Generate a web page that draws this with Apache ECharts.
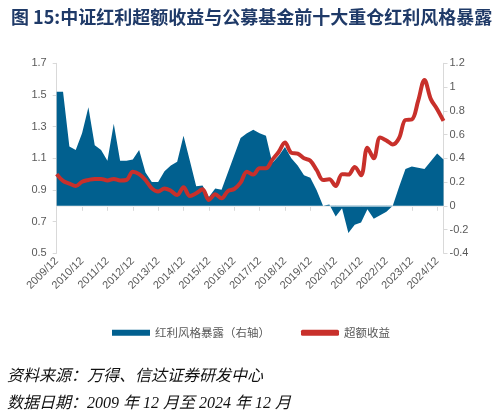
<!DOCTYPE html>
<html>
<head>
<meta charset="utf-8">
<script src="https://cdn.jsdelivr.net/npm/echarts@6/dist/echarts.min.js"></script>
<style>
  html, body { margin: 0; padding: 0; background: #fff; }
  #chart { width: 499px; height: 417px; }
</style>
</head>
<body>
<div id="chart"></div>
<script>
// 季度数据 2009/12 - 2025/03
var quarters = [];
for (var y = 2009; y <= 2025; y++) {
  ['03', '06', '09', '12'].forEach(function (m) {
    var q = y + '/' + m;
    if (q >= '2009/12' && q <= '2025/03') quarters.push(q);
  });
}

// 红利风格暴露（右轴）
var exposure = [
  0.96, 0.96, 0.50, 0.47, 0.61, 0.83, 0.51, 0.47, 0.38, 0.69,
  0.38, 0.38, 0.39, 0.47, 0.28, 0.20, 0.20, 0.29, 0.34, 0.37,
  0.59, 0.38, 0.165, 0.17, 0.075, 0.145, 0.135, 0.28, 0.425, 0.57,
  0.61, 0.64, 0.61, 0.59, 0.36, 0.42, 0.495, 0.40, 0.34, 0.257,
  0.237, 0.13, 0.0, 0.01, -0.09, -0.02, -0.23, -0.16, -0.14, -0.03,
  -0.11, -0.08, -0.05, 0.0, 0.16, 0.31, 0.33, 0.32, 0.31, 0.375,
  0.44, 0.39
];

// 超额收益（左轴）
var excess = [
  1.0, 0.957, 0.94, 0.925, 0.952, 0.963, 0.97, 0.97, 0.96, 0.97,
  0.96, 0.963, 1.015, 1.0, 0.963, 0.91, 0.89, 0.91, 0.895, 0.868,
  0.917, 0.862, 0.879, 0.904, 0.837, 0.873, 0.847, 0.893, 0.906, 0.946,
  1.015, 0.997, 1.037, 1.037, 1.09, 1.14, 1.2, 1.135, 1.13, 1.1,
  1.085, 1.026, 0.963, 0.967, 0.925, 1.0, 0.997, 1.045, 0.993, 1.167,
  1.1, 1.232, 1.213, 1.187, 1.228, 1.342, 1.345, 1.462, 1.595, 1.474,
  1.41, 1.336
];

var leftTicks = [0.5, 0.7, 0.9, 1.1, 1.3, 1.5, 1.7];
var rightTicks = [-0.4, -0.2, 0, 0.2, 0.4, 0.6, 0.8, 1, 1.2];

var chart = echarts.init(document.getElementById('chart'));
var axisGray = '#d9d9d9';
var labelGray = '#595959';

var option = {
  animation: false,
  title: {
    text: '图 15:中证红利超额收益与公募基金前十大重仓红利风格暴露',
    left: 6,
    top: 3,
    textStyle: {
      fontFamily: 'Noto Sans CJK SC',
      fontSize: 18,
      fontWeight: 'bold',
      color: '#1f3a68'
    }
  },
  grid: {   //绘图区位置
    left: 56.7,
    right: 55.5,
    top: 63.3,
    bottom: 163.7
  },
  legend: {
    top: 322,
    left: 107,
    itemWidth: 38,
    itemHeight: 6,
    itemGap: 31,
    textStyle: { fontFamily: 'Noto Sans CJK SC', fontSize: 11.5, color: labelGray },
    data: [
      { name: '红利风格暴露（右轴）', icon: 'rect' },
      { name: '超额收益', icon: 'roundRect' }
    ]
  },
  xAxis: {
    type: 'category',
    data: quarters,
    boundaryGap: false,
    axisLine: { lineStyle: { color: axisGray } },
    axisTick: { interval: 3, length: 5, lineStyle: { color: axisGray } },
    axisLabel: {
      interval: 3,
      rotate: 45,
      fontSize: 11,
      fontFamily: 'Liberation Sans',
      color: labelGray,
      margin: 6
    },
    splitLine: { show: false }
  },
  yAxis: [
    {
      type: 'value',
      min: 0.5,
      max: 1.7,
      position: 'left',
      axisLine: { show: true, lineStyle: { color: axisGray } },
      axisTick: { show: true, length: 4, customValues: leftTicks, lineStyle: { color: axisGray } },
      axisLabel: {
        customValues: leftTicks,
        fontSize: 11,
        fontFamily: 'Liberation Sans',
        color: labelGray,
        margin: 10
      },
      splitLine: { show: false }
    },
    {
      type: 'value',
      min: -0.4,
      max: 1.2,
      position: 'right',
      axisLine: { show: true, lineStyle: { color: axisGray } },
      axisTick: { show: true, length: 4, customValues: rightTicks, lineStyle: { color: axisGray } },
      axisLabel: {
        customValues: rightTicks,
        fontSize: 11,
        fontFamily: 'Liberation Sans',
        color: labelGray,
        margin: 6
      },
      splitLine: { show: false }
    }
  ],
  series: [
    {
      name: '红利风格暴露（右轴）',
      type: 'line',
      yAxisIndex: 1,
      data: exposure,
      symbol: 'none',
      itemStyle: { color: '#01608f' },
      lineStyle: { width: 0, color: '#01608f' },
      areaStyle: { color: '#01608f', opacity: 1 },
      markLine: {
        silent: true,
        symbol: 'none',
        label: { show: false },
        lineStyle: { color: 'rgba(255,255,255,0.55)', width: 1, type: 'solid' },
        data: [{ yAxis: 0 }]
      },
      z: 1
    },
    {
      name: '超额收益',
      type: 'line',
      yAxisIndex: 0,
      data: excess,
      symbol: 'none',
      smooth: 0.35,
      itemStyle: { color: '#c8302b' },
      lineStyle: { width: 4, color: '#c8302b' },
      z: 3
    }
  ],
  graphic: [
    {
      type: 'text',
      left: 7,
      top: 369,
      style: {
        text: '资料来源：万得、信达证券研发中心',
        font: 'italic 16px "Liberation Serif", "Noto Sans CJK SC"',
        fill: '#111'
      }
    },
    {
      type: 'text',
      left: 7,
      top: 396,
      style: {
        text: '数据日期：2009 年 12 月至 2024 年 12 月',
        font: 'italic 16px "Liberation Serif", "Noto Sans CJK SC"',
        fill: '#111'
      }
    }
  ]
};

chart.setOption(option);
</script>
</body>
</html>
